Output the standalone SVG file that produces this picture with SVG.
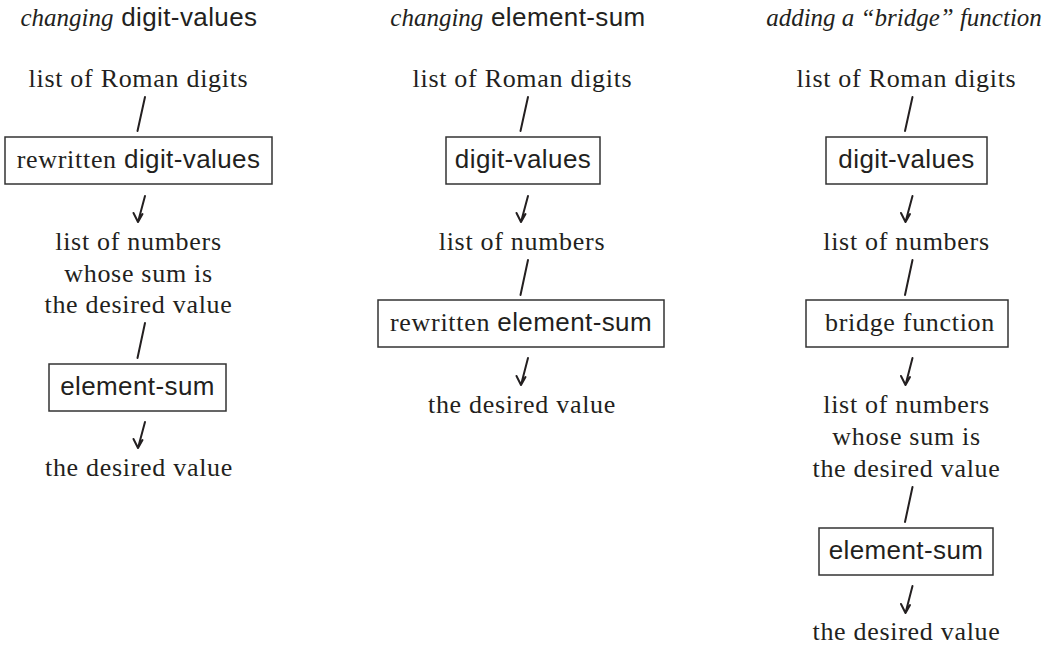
<svg xmlns="http://www.w3.org/2000/svg" width="1052" height="645" viewBox="0 0 1052 645">
<style>
text{fill:#231f20;text-anchor:middle}
.s{font-family:"Liberation Serif","Times New Roman",serif;font-size:26px;letter-spacing:0.7px}
.i{font-family:"Liberation Serif","Times New Roman",serif;font-style:italic;font-size:25px;letter-spacing:0}
.a{font-family:"Liberation Sans",Arial,sans-serif;font-size:26px;letter-spacing:0.4px}
.box{fill:#fff;stroke:#333;stroke-width:1.5}
.c path{fill:none;stroke:#231f20;stroke-width:2;stroke-linecap:round;stroke-linejoin:round}
</style>
<rect x="0" y="0" width="1052" height="645" fill="#fff"/>
<g id="col1">
<g id="t1"><text x="139" y="26"><tspan class="i">changing</tspan><tspan class="a"> digit-values</tspan></text></g>
<g id="n1a"><text class="s" x="138.5" y="87">list of Roman digits</text></g>
<g id="n1b"><rect class="box" x="5" y="137" width="267" height="47"/><text x="138.5" y="168"><tspan class="s">rewritten </tspan><tspan class="a">digit-values</tspan></text></g>
<g id="n1c"><text class="s" x="138.5" y="250">list of numbers</text><text class="s" x="138.5" y="282">whose sum is</text><text class="s" x="138.5" y="313">the desired value</text></g>
<g id="n1d"><rect class="box" x="49" y="364" width="177" height="47"/><text class="a" x="137.5" y="395">element-sum</text></g>
<g id="n1e"><text class="s" x="139" y="476">the desired value</text></g>
</g>
<g id="col2">
<g id="t2"><text x="518" y="26"><tspan class="i">changing</tspan><tspan class="a"> element-sum</tspan></text></g>
<g id="n2a"><text class="s" x="522.5" y="87">list of Roman digits</text></g>
<g id="n2b"><rect class="box" x="446" y="137" width="154" height="47"/><text class="a" x="523" y="168">digit-values</text></g>
<g id="n2c"><text class="s" x="522" y="250">list of numbers</text></g>
<g id="n2d"><rect class="box" x="378" y="300" width="286" height="47"/><text x="521" y="331"><tspan class="s">rewritten </tspan><tspan class="a">element-sum</tspan></text></g>
<g id="n2e"><text class="s" x="522" y="413">the desired value</text></g>
</g>
<g id="col3">
<g id="t3"><text class="i" x="904" y="26">adding a “bridge” function</text></g>
<g id="n3a"><text class="s" x="906.5" y="87">list of Roman digits</text></g>
<g id="n3b"><rect class="box" x="826" y="137" width="161" height="47"/><text class="a" x="906.5" y="168">digit-values</text></g>
<g id="n3c"><text class="s" x="906.5" y="250">list of numbers</text></g>
<g id="n3d"><rect class="box" x="806" y="300" width="202" height="47"/><text class="s" x="910" y="331">bridge function</text></g>
<g id="n3e"><text class="s" x="906.5" y="413">list of numbers</text><text class="s" x="906.5" y="445">whose sum is</text><text class="s" x="906.5" y="477">the desired value</text></g>
<g id="n3f"><rect class="box" x="819" y="528" width="174" height="47"/><text class="a" x="906" y="559">element-sum</text></g>
<g id="n3g"><text class="s" x="906.5" y="640">the desired value</text></g>
</g>
<g id="connectors" class="c">
<path d="M145,97 L137.5,131"/>
<path d="M145,196 L138,222 M133.5,213 L138,222 L142.5,214"/>
<path d="M145,323 L137.5,358"/>
<path d="M145,422 L138,448 M133.5,439 L138,448 L142.5,440"/>
<path d="M528,97 L520.5,131"/>
<path d="M528,196 L521,222 M516.5,213 L521,222 L525.5,214"/>
<path d="M528,260 L520.5,295"/>
<path d="M528,358 L521,385 M516.5,376 L521,385 L525.5,377"/>
<path d="M912.5,97 L905,131"/>
<path d="M912.5,196 L905.5,222 M901,213 L905.5,222 L910,214"/>
<path d="M912.5,260 L905,295"/>
<path d="M912.5,358 L905.5,385 M901,376 L905.5,385 L910,377"/>
<path d="M912.5,487 L905,522"/>
<path d="M912.5,586 L905.5,613 M901,604 L905.5,613 L910,605"/>
</g>
</svg>
